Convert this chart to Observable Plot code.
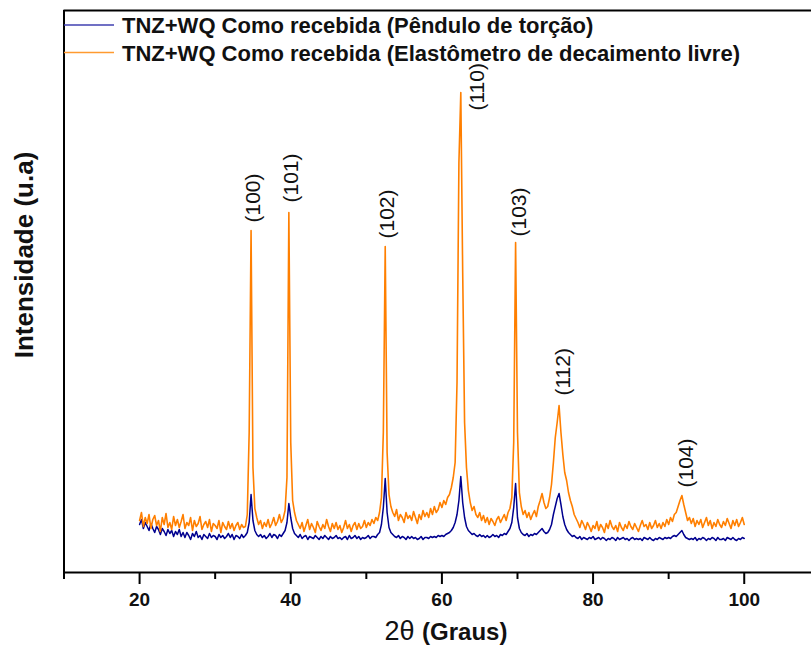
<!DOCTYPE html>
<html>
<head>
<meta charset="utf-8">
<script src="https://cdn.jsdelivr.net/npm/d3@7"></script>
<script src="https://cdn.jsdelivr.net/npm/@observablehq/plot@0.6"></script>
<style>
  html, body { margin: 0; padding: 0; background: #fff; }
  #chart { width: 811px; height: 646px; }
</style>
</head>
<body>
<div id="chart"></div>
<script>
// ---- data (intensity in arbitrary units) ----
const seriesNames = [
  "TNZ+WQ Como recebida (Pêndulo de torção)",
  "TNZ+WQ Como recebida (Elastômetro de decaimento livre)"
];
const seriesColors = ["#00008f", "#ff7f00"];
const legendColors = ["#4040b0", "#ff9a30"];
const startAngle = 20;   // first 2θ sample
const angleStep = 0.25;  // 2θ sampling step

// Pêndulo de torção (blue)
const blueValues = [
  48,53,44,50, 46,42,49,44, 40,46,43,38, 44,41,37,43, 39,42,36,41,
  38,43,36,40, 35,40,37,33, 39,36,41,35, 37,33,38,36, 34,39,35,37,
  36,33,38,35, 37,34,36,39, 35,38,33,37, 36,34,38,35, 37,40,50,78,
  52,42,38,36, 38,35,37,34, 36,39,35,38, 37,34,38,36, 39,42,50,69,
  55,44,39,37, 35,38,34,36, 37,33,36,35, 34,37,35,33, 36,34,37,35,
  33,36,34,35, 37,34,35,33, 35,36,33,37, 34,35,37,34, 36,33,35,34,
  35,37,34,36, 36,35,38,40, 48,65,94,60, 45,40,38,36, 35,37,34,36,
  35,33,36,34, 36,34,35,33, 34,36,33,35, 35,34,36,35, 36,35,37,36,
  37,36,38,39, 40,42,45,50, 58,72,96,70, 55,46,42,40, 38,39,37,36,
  38,36,37,35, 37,35,36,38, 36,37,35,38, 37,39,38,41, 44,50,65,89,
  55,44,40,38, 37,39,36,38, 37,39,38,40, 42,44,41,39, 40,43,48,58,
  66,74,79,68, 56,48,43,40, 38,36,37,35, 34,36,33,35, 34,33,35,34,
  36,33,34,35, 33,35,34,32, 34,33,35,34, 32,35,33,34, 35,33,34,32,
  34,35,33,34, 33,34,32,35, 34,33,35,33, 32,34,33,35, 34,33,35,34,
  35,34,36,37, 36,38,40,42, 38,35,34,33, 34,33,35,32, 34,33,35,34,
  32,34,33,35, 34,32,35,33, 33,34,32,35, 34,33,35,33, 32,34,33,35,
  34
];

// Elastômetro de decaimento livre (orange)
const orangeValues = [
  52,60,46,55, 49,58,44,53, 57,47,52,41, 55,48,59,45, 50,43,56,47,
  53,45,51,58, 44,50,47,55, 42,52,46,49, 56,43,48,51, 45,53,41,49,
  47,44,52,40, 50,46,43,51, 44,49,42,47, 50,43,48,45, 46,58,140,342,
  105,64,55,48, 52,44,50,46, 53,45,49,55, 47,51,58,50, 54,62,95,360,
  130,72,60,52, 48,44,50,41, 47,53,43,49, 45,40,51,46, 42,48,44,53,
  46,41,49,44, 50,43,47,40, 45,52,44,48, 41,47,50,43, 49,44,46,52,
  45,50,47,53, 49,55,52,60, 75,140,326,120, 78,66,60,56, 63,52,58,55,
  50,60,54,57, 52,61,55,49, 58,53,62,56, 60,55,64,58, 66,60,63,70,
  65,72,68,75, 78,85,95,110, 190,410,480,300, 150,105,82,70, 62,66,58,55,
  60,52,57,50, 55,48,54,51, 47,53,56,50, 54,58,52,60, 64,75,130,330,
  140,80,66,58, 62,55,60,53, 58,62,56,66, 72,79,70,64, 66,75,88,110,
  135,150,167,140, 118,100,92,80, 72,66,58,54, 50,45,52,48, 43,50,46,41,
  47,44,51,42, 48,45,40,49, 44,52,46,43, 47,41,50,45, 42,48,44,51,
  46,43,49,45, 41,47,52,46, 48,43,50,44, 47,52,45,49, 44,50,46,53,
  48,55,51,58, 60,66,72,77, 68,60,52,55, 49,54,46,52, 48,53,45,50,
  55,47,52,44, 50,46,53,48, 45,51,47,54, 49,44,52,47, 53,46,50,55,
  48
];

// peak indexing labels
const peakLabels = ["(100)", "(101)", "(102)", "(110)", "(103)", "(112)", "(104)"];
const peakLabelAngle = [35.1, 40.05, 52.8, 64.7, 70.2, 76.05, 92.3];
const peakLabelBase = [350, 370, 334, 462, 336, 177, 85];

const majorTicks = [20, 40, 60, 80, 100];
const minorTicks = [10, 30, 50, 70, 90];
const xDomain = [10, 108.9];
const yDomain = [0, 562];

// ---- build tables ----
const blueRows = blueValues.map((v, i) => ({x: startAngle + i * angleStep, y: v}));
const orangeRows = orangeValues.map((v, i) => ({x: startAngle + i * angleStep, y: v}));
const labelRows = peakLabels.map((t, i) => ({text: t, x: peakLabelAngle[i], y: peakLabelBase[i]}));

const FONT = "'Liberation Sans', Arial, Helvetica, sans-serif";

const chart = Plot.plot({
  width: 811,
  height: 646,
  marginLeft: 63.5,
  marginRight: 0,
  marginTop: 10,
  marginBottom: 74,
  style: {fontFamily: FONT, background: "white", overflow: "visible"},
  x: {domain: xDomain},
  y: {domain: yDomain, axis: null},
  marks: [
    Plot.line(blueRows, {x: "x", y: "y", stroke: seriesColors[0], strokeWidth: 1.5}),
    Plot.line(orangeRows, {x: "x", y: "y", stroke: seriesColors[1], strokeWidth: 1.6}),
    Plot.text(labelRows, {x: "x", y: "y", text: "text", rotate: -90, textAnchor: "start",
      fontSize: 21, fill: "#111", fontFamily: FONT}),
    Plot.axisX({ticks: minorTicks, tickSize: 7, strokeWidth: 2, text: null, label: null}),
    Plot.axisX({ticks: majorTicks, tickSize: 12, tickPadding: 8, strokeWidth: 2,
      fontSize: 19, fontWeight: "bold", fill: "#111", label: null, tickFormat: d => String(d)}),
    Plot.ruleY([yDomain[0]], {stroke: "black", strokeWidth: 2}),
    Plot.ruleY([yDomain[1]], {stroke: "black", strokeWidth: 2}),
    Plot.ruleX([xDomain[0]], {stroke: "black", strokeWidth: 2})
  ]
});

const svg = d3.select(chart);

// y-axis title
svg.append("text")
  .attr("transform", "translate(33,255) rotate(-90)")
  .attr("text-anchor", "middle")
  .style("font-family", FONT)
  .style("font-size", "26px")
  .style("font-weight", "bold")
  .attr("fill", "#111")
  .text("Intensidade (u.a)");

// x-axis title
const xt = svg.append("text")
  .attr("x", 446).attr("y", 640)
  .attr("text-anchor", "middle")
  .style("font-family", FONT)
  .attr("fill", "#111");
xt.append("tspan").style("font-size", "27px").text("2θ ");
xt.append("tspan").style("font-size", "24px").style("font-weight", "bold").text("(Graus)");

// legend
const lg = svg.append("g").attr("text-anchor", "start");
seriesNames.forEach((name, i) => {
  const yy = 25 + i * 27.5;
  lg.append("line").attr("x1", 64).attr("x2", 114).attr("y1", yy).attr("y2", yy)
    .attr("stroke", legendColors[i]).attr("stroke-width", 1.5);
  lg.append("text").attr("x", 122).attr("y", yy + 8)
    .attr("text-anchor", "start")
    .style("font-family", FONT).style("font-size", "22px").style("font-weight", "bold")
    .attr("fill", "#111").text(name);
});

document.getElementById("chart").appendChild(chart);
</script>
</body>
</html>
